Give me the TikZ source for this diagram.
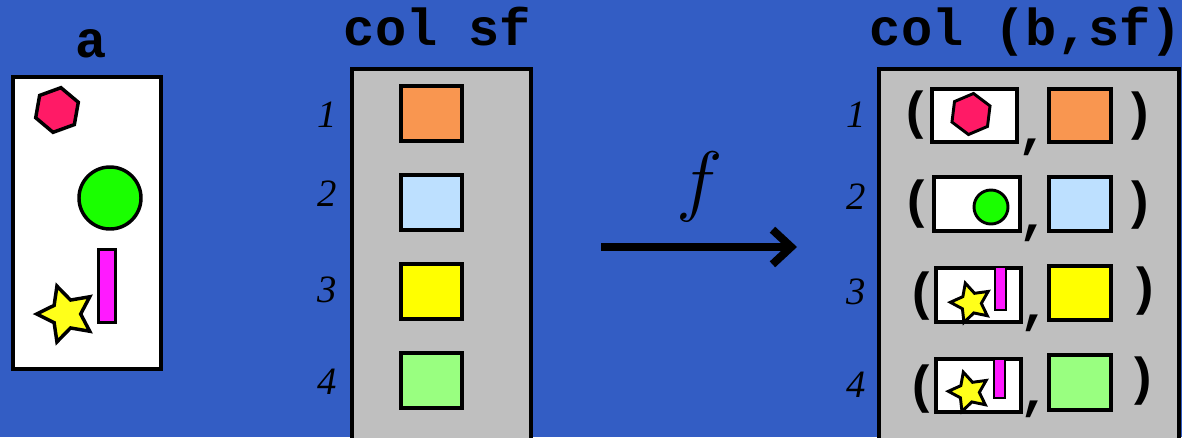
\RequirePackage{fix-cm}
\documentclass[tikz,border=0pt]{standalone}
\usepackage{fontspec}
\usetikzlibrary{shapes.geometric,arrows.meta}
\newfontfamily\codefont{Liberation Mono}
\newfontfamily\numfont{Liberation Serif}
\newfontfamily\parfont{Liberation Sans}

\definecolor{bgblue}{RGB}{51,93,196}
\definecolor{panelgray}{RGB}{191,191,191}
\definecolor{sqorange}{RGB}{249,150,80}
\definecolor{sqblue}{RGB}{189,224,255}
\definecolor{sqyellow}{RGB}{255,255,0}
\definecolor{sqgreen}{RGB}{153,255,128}
\definecolor{hexpink}{RGB}{255,26,102}
\definecolor{ballgreen}{RGB}{26,255,0}
\definecolor{barmagenta}{RGB}{255,26,255}
\definecolor{staryellow}{RGB}{255,255,26}

\tikzset{
  frame/.style={draw=black, line width=3pt},
  panel/.style={frame, fill=panelgray},
  swatch/.style={draw=black, line width=3pt},
  cell/.style={draw=black, line width=2.6pt, fill=white},
  bigshape/.style={draw=black, line width=2.6pt, line join=miter},
  smallshape/.style={draw=black, line width=2.2pt, line join=miter},
  hexa/.style={regular polygon, regular polygon sides=6, inner sep=0pt, fill=hexpink},
  starry/.style={star, star points=5, star point ratio=2.0, inner sep=0pt, fill=staryellow},
  title/.style={font=\codefont\bfseries\fontsize{39}{41}\selectfont, anchor=base, inner sep=0pt},
  rowno/.style={font=\numfont\itshape\fontsize{29}{31}\selectfont, inner sep=0pt},
  paren/.style={font=\parfont\bfseries\fontsize{39}{41}\selectfont, inner sep=0pt},
  sep/.style={font=\codefont\bfseries\fontsize{39}{41}\selectfont, inner sep=0pt},
}

\begin{document}
\begin{tikzpicture}[x=0.75pt, y=-0.75pt]
\clip (0,0) rectangle (1182,437);
\fill[bgblue] (0,0) rectangle (1182,437);

% ---- the sequence a ----
\node[title] (ta) at (91,57) {a};
\draw[frame, fill=white] (13,77) rectangle (161,369);
\node[hexa, bigshape, minimum size=34pt, rotate=20] (ahex) at (57,110) {};
\draw[bigshape, fill=ballgreen] (110,198) circle[radius=31];
\draw[bigshape, fill=barmagenta] (98.5,249.5) rectangle (115.5,322.5);
\node[starry, bigshape, minimum size=44pt, rotate=18] (astar) at (66,314) {};

% ---- the column sf ----
\node[title] (tsf) at (437.5,45) {col sf};
\draw[panel] (352,68.5) rectangle (530.5,460);
\draw[swatch, fill=sqorange] (401,86) rectangle (462,141);
\draw[swatch, fill=sqblue]   (401,175) rectangle (462,230);
\draw[swatch, fill=sqyellow] (401,264) rectangle (462,319);
\draw[swatch, fill=sqgreen]  (401,353) rectangle (462,408);
\node[rowno] (l1) at (327,115) {1};
\node[rowno] (l2) at (327,194) {2};
\node[rowno] (l3) at (327,290) {3};
\node[rowno] (l4) at (327,382) {4};

% ---- the map f ----
\node[font=\fontsize{59}{60}\selectfont, inner sep=0pt] (fl) at (700,187) {$f$};
\coordinate (fstart) at (601,247);
\coordinate (fend) at (797,247);
\draw[line width=6pt, -{Straight Barb[length=14pt, width=26pt]}] (fstart) -- (fend);

% ---- the column (b,sf) ----
\node[title] (tbsf) at (1026,45) {col (b,sf)};
\draw[panel] (878.5,68.5) rectangle (1179,460);
\node[rowno] (r1) at (856,115) {1};
\node[rowno] (r2) at (856,197) {2};
\node[rowno] (r3) at (856,292) {3};
\node[rowno] (r4) at (856,385) {4};

% row 1
\draw[cell] (932,89) rectangle (1017,142);
\node[hexa, smallshape, minimum size=31pt, rotate=23] (bhex) at (971,114) {};
\draw[swatch, fill=sqorange] (1049,89) rectangle (1111,142);
% row 2
\draw[cell] (934,177) rectangle (1020,231);
\draw[smallshape, fill=ballgreen] (991,207) circle[radius=17];
\draw[swatch, fill=sqblue] (1049,177) rectangle (1111,231);
% row 3
\draw[cell] (936,268) rectangle (1021,322);
\draw[smallshape, fill=barmagenta] (995,267) rectangle (1006,310);
\node[starry, smallshape, minimum size=31pt, rotate=16] (bstar3) at (971,303) {};
\draw[swatch, fill=sqyellow] (1049,266) rectangle (1111,320);
% row 4
\draw[cell] (936,359) rectangle (1021,412);
\draw[smallshape, fill=barmagenta] (994,359) rectangle (1005,398);
\node[starry, smallshape, minimum size=31pt, rotate=16] (bstar4) at (969,392) {};
\draw[swatch, fill=sqgreen] (1049,355) rectangle (1111,410);

% brackets and commas of the pairs
\node[paren] (o1) at (915,115.5) {(};
\node[paren] (c1) at (1140,116) {)};
\node[sep] (k1) at (1033,147) {,};
\node[paren] (o2) at (916.5,204) {(};
\node[paren] (c2) at (1140,205) {)};
\node[sep] (k2) at (1034,233) {,};
\node[paren] (o3) at (921,296) {(};
\node[paren] (c3) at (1145,291) {)};
\node[sep] (k3) at (1035,323) {,};
\node[paren] (o4) at (921,389) {(};
\node[paren] (c4) at (1143,381) {)};
\node[sep] (k4) at (1035,409) {,};
\end{tikzpicture}
\end{document}
